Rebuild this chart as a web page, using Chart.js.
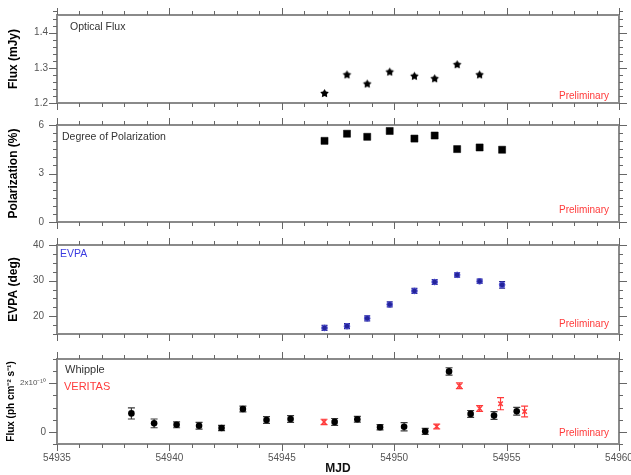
<!DOCTYPE html>
<html>
<head>
<meta charset="utf-8">
<script src="https://cdn.jsdelivr.net/npm/chart.js@4.4.1/dist/chart.umd.min.js"></script>
<style>
  html, body { margin: 0; padding: 0; background: #fff; overflow: hidden; }
  #wrap { position: relative; width: 631px; height: 475px; overflow: hidden; }
  #wrap canvas { position: absolute; left: 0; top: 0; pointer-events: none; }
</style>
</head>
<body>
<div id="wrap">
  <canvas id="optChart" width="660" height="475"></canvas>
  <canvas id="polChart" width="660" height="475"></canvas>
  <canvas id="evpaChart" width="660" height="475"></canvas>
  <canvas id="gammaChart" width="660" height="475"></canvas>
</div>
<script>
// optical monitoring nights (MJD)
const optMjd = [54946.9, 54947.9, 54948.8, 54949.8, 54950.9, 54951.8, 54952.8, 54953.8];
const optFlux = [1.227, 1.280, 1.254, 1.288, 1.276, 1.269, 1.309, 1.280];

// polarimetry nights (MJD)
const polMjd = [54946.9, 54947.9, 54948.8, 54949.8, 54950.9, 54951.8, 54952.8, 54953.8, 54954.8];
const polDegree = [5.02, 5.46, 5.27, 5.63, 5.16, 5.35, 4.51, 4.61, 4.47];
const evpa = [16.7, 17.2, 19.4, 23.3, 27.1, 29.6, 31.6, 29.8, 28.8];
const evpaErr = [0.7, 0.7, 0.7, 0.7, 0.7, 0.7, 0.6, 0.6, 0.9];

// gamma-ray flux, in units of 1e-10 ph cm^-2 s^-1
const whippleMjd = [54938.31, 54939.32, 54940.32, 54941.32, 54942.32, 54943.27, 54944.32, 54945.39,
  54947.35, 54948.36, 54949.37, 54950.44, 54951.38, 54952.44, 54953.40, 54954.44, 54955.45];
const whippleFlux = [0.76, 0.35, 0.29, 0.25, 0.16, 0.94, 0.49, 0.53,
  0.41, 0.52, 0.19, 0.21, 0.02, 2.49, 0.74, 0.67, 0.85];
const whippleErr = [0.23, 0.18, 0.12, 0.14, 0.11, 0.12, 0.14, 0.14,
  0.14, 0.12, 0.11, 0.17, 0.12, 0.15, 0.14, 0.16, 0.16];
const veritasMjd = [54946.88, 54951.89, 54952.90, 54953.80, 54954.73, 54955.80];
const veritasFlux = [0.41, 0.22, 1.90, 0.96, 1.16, 0.84];
const veritasErr = [0.11, 0.10, 0.12, 0.12, 0.25, 0.22];

// labelled (major) ticks
const mjdTicks = [54935, 54940, 54945, 54950, 54955, 54960];
const optTicks = [1.2, 1.3, 1.4];
const polTicks = [0, 3, 6];
const evpaTicks = [20, 30, 40];
const gammaTicks = [0, 2];

const RED = '#ff3b3b';
const FONT = "'Liberation Sans', Arial, sans-serif";
Chart.defaults.font.family = FONT;

function isMajor(v, majors) {
  return majors.some(m => Math.abs(m - v) < 1e-6);
}

function stepTicks(min, max, step) {
  const out = [];
  const n = Math.round((max - min) / step);
  for (let i = 0; i <= n; i++) out.push({ value: Math.round((min + i * step) * 1e6) / 1e6 });
  return out;
}

function points(xs, ys) {
  return xs.map((x, i) => ({ x: x, y: ys[i] }));
}

// small filled star used for the optical flux points
function starMarker(r) {
  const c = document.createElement('canvas');
  c.width = c.height = 2 * r + 2;
  const g = c.getContext('2d');
  g.fillStyle = '#000';
  g.beginPath();
  for (let i = 0; i < 10; i++) {
    const rr = i % 2 ? r * 0.55 : r;
    const a = -Math.PI / 2 + i * Math.PI / 5;
    g.lineTo(r + 1 + rr * Math.cos(a), r + 1 + rr * Math.sin(a));
  }
  g.closePath();
  g.fill();
  return c;
}

// frame, outward ticks on all sides, error bars and in-panel notes
const panelFrame = {
  id: 'panelFrame',
  beforeDatasetsDraw(chart) {
    const { ctx, scales } = chart;
    chart.data.datasets.forEach(ds => {
      if (!ds.yErr) return;
      ctx.save();
      ctx.strokeStyle = ds.errColor;
      ctx.lineWidth = 1.2;
      ds.data.forEach((p, j) => {
        const px = scales.x.getPixelForValue(p.x);
        const lo = scales.y.getPixelForValue(p.y - ds.yErr[j]);
        const hi = scales.y.getPixelForValue(p.y + ds.yErr[j]);
        const cap = ds.capWidth;
        ctx.beginPath();
        ctx.moveTo(px, lo); ctx.lineTo(px, hi);
        ctx.moveTo(px - cap, lo); ctx.lineTo(px + cap, lo);
        ctx.moveTo(px - cap, hi); ctx.lineTo(px + cap, hi);
        ctx.stroke();
      });
      ctx.restore();
    });
  },
  afterDraw(chart, args, opts) {
    const { ctx, chartArea: a, scales } = chart;
    ctx.save();
    ctx.strokeStyle = '#8a8a8a';
    ctx.lineWidth = 2;
    ctx.strokeRect(a.left, a.top, a.right - a.left, a.bottom - a.top);

    ctx.strokeStyle = '#666';
    ctx.lineWidth = 1;
    ctx.beginPath();
    scales.x.ticks.forEach(t => {
      const px = Math.round(scales.x.getPixelForValue(t.value)) + 0.5;
      const len = isMajor(t.value, mjdTicks) ? 7 : 4;
      ctx.moveTo(px, a.top); ctx.lineTo(px, a.top - len);
      ctx.moveTo(px, a.bottom); ctx.lineTo(px, a.bottom + len);
    });
    scales.y.ticks.forEach(t => {
      const py = Math.round(scales.y.getPixelForValue(t.value)) + 0.5;
      const len = isMajor(t.value, opts.yMajor) ? 8 : 4;
      ctx.moveTo(a.left, py); ctx.lineTo(a.left - len, py);
      ctx.moveTo(a.right, py); ctx.lineTo(a.right + len, py);
    });
    ctx.stroke();

    ctx.textBaseline = 'middle';
    (opts.notes || []).forEach(n => {
      ctx.font = n.size + 'px ' + FONT;
      ctx.fillStyle = n.color;
      ctx.textAlign = n.align || 'left';
      ctx.fillText(n.text, n.align === 'right' ? a.right + n.dx : a.left + n.dx, a.top + n.dy);
    });
    ctx.restore();
  }
};

function makePanel(id, o) {
  const last = !!o.showMjd;
  return new Chart(document.getElementById(id), {
    type: 'scatter',
    data: { datasets: o.datasets },
    options: {
      responsive: false,
      animation: false,
      events: [],
      layout: { padding: { left: 0, right: 41, top: o.top, bottom: last ? 0 : 475 - o.bottom } },
      plugins: {
        legend: { display: false },
        tooltip: { enabled: false },
        panelFrame: {
          yMajor: o.yMajor,
          notes: o.notes.concat([{ text: 'Preliminary', color: RED, size: 10, align: 'right', dx: -10, dy: o.prelimY }])
        }
      },
      scales: {
        x: {
          type: 'linear',
          min: 54935,
          max: 54960,
          afterBuildTicks: s => { s.ticks = stepTicks(54935, 54960, 1); },
          afterFit: s => { s.height = last ? 31 : 0; },
          grid: { display: false, drawTicks: false },
          border: { display: false },
          ticks: {
            display: last,
            autoSkip: false,
            minRotation: 0,
            maxRotation: 0,
            padding: 8,
            color: '#555',
            font: { size: 10 },
            callback: v => isMajor(v, mjdTicks) ? String(v) : ''
          },
          title: {
            display: last,
            text: 'MJD',
            color: '#111',
            font: { size: 12, weight: 'bold', lineHeight: 1 },
            padding: 0
          }
        },
        y: {
          type: 'linear',
          min: o.yMin,
          max: o.yMax,
          afterBuildTicks: s => { s.ticks = stepTicks(o.yMin, o.yMax, o.yStep); },
          afterFit: s => { s.width = 57; },
          grid: { display: false, drawTicks: false },
          border: { display: false },
          ticks: {
            autoSkip: false,
            padding: o.labelPad,
            color: '#555',
            font: o.tickFont || { size: 10 },
            callback: o.yLabel
          },
          title: {
            display: true,
            text: o.title,
            color: '#000',
            font: { size: o.titleSize || 12, weight: 'bold' },
            padding: { top: o.titlePad || 6, bottom: 0 }
          }
        }
      }
    },
    plugins: [panelFrame]
  });
}

makePanel('optChart', {
  top: 11, bottom: 103,
  yMin: 1.2, yMax: 1.45, yStep: 0.02, yMajor: optTicks, labelPad: 9,
  yLabel: v => isMajor(v, optTicks) ? v.toFixed(1) : '',
  title: 'Flux (mJy)',
  prelimY: 81,
  notes: [{ text: 'Optical Flux', color: '#333', size: 10.5, dx: 13, dy: 12 }],
  datasets: [{
    data: points(optMjd, optFlux),
    pointStyle: starMarker(4.5),
    pointRadius: 5
  }]
});

makePanel('polChart', {
  top: 125, bottom: 222,
  yMin: 0, yMax: 6, yStep: 0.5, yMajor: polTicks, labelPad: 13,
  yLabel: v => isMajor(v, polTicks) ? String(v) : '',
  title: 'Polarization (%)',
  prelimY: 85,
  notes: [{ text: 'Degree of Polarization', color: '#333', size: 10.5, dx: 5, dy: 12 }],
  datasets: [{
    data: points(polMjd, polDegree),
    pointStyle: 'rect',
    pointRadius: 5,
    backgroundColor: '#000',
    borderColor: '#000',
    borderWidth: 0.5
  }]
});

makePanel('evpaChart', {
  top: 245, bottom: 334,
  yMin: 15, yMax: 40, yStep: 2.5, yMajor: evpaTicks, labelPad: 13,
  yLabel: v => isMajor(v, evpaTicks) ? String(v) : '',
  title: 'EVPA (deg)',
  prelimY: 79,
  notes: [{ text: 'EVPA', color: '#3b3be0', size: 10.5, dx: 3, dy: 9 }],
  datasets: [{
    data: points(polMjd, evpa),
    yErr: evpaErr,
    errColor: '#23238f',
    capWidth: 3,
    pointStyle: 'circle',
    pointRadius: 2.8,
    backgroundColor: '#24249a',
    borderColor: '#4f4fd0',
    borderWidth: 1
  }]
});

makePanel('gammaChart', {
  top: 359, bottom: 444, showMjd: true,
  yMin: -0.5, yMax: 3, yStep: 0.5, yMajor: gammaTicks, labelPad: 11,
  tickFont: c => ({ size: c.tick && c.tick.value === 2 ? 8 : 10 }),
  yLabel: v => v === 0 ? '0' : (isMajor(v, gammaTicks) ? '2x10\u207B\u00B9\u2070' : ''),
  title: 'Flux (ph cm\u207B\u00B2 s\u207B\u00B9)',
  titleSize: 10,
  titlePad: 5,
  prelimY: 74,
  notes: [
    { text: 'Whipple', color: '#333', size: 11, dx: 8, dy: 11 },
    { text: 'VERITAS', color: RED, size: 11, dx: 7, dy: 27.5 }
  ],
  datasets: [{
    data: points(whippleMjd, whippleFlux),
    yErr: whippleErr,
    errColor: '#3a3a3a',
    capWidth: 3.5,
    pointStyle: 'circle',
    pointRadius: 3.3,
    backgroundColor: '#000',
    borderColor: '#000',
    borderWidth: 0
  }, {
    data: points(veritasMjd, veritasFlux),
    yErr: veritasErr,
    errColor: RED,
    capWidth: 3.5,
    pointStyle: 'crossRot',
    pointRadius: 3.2,
    borderColor: RED,
    borderWidth: 1.5
  }]
});
</script>
</body>
</html>
